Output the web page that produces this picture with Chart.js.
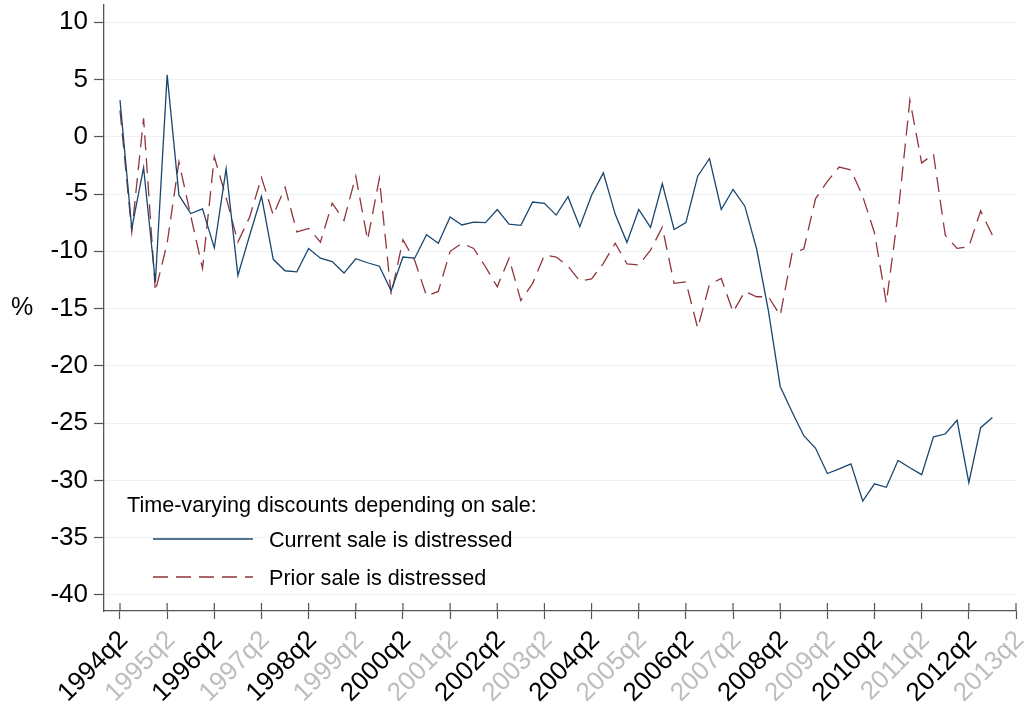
<!DOCTYPE html>
<html>
<head>
<meta charset="utf-8">
<script src="https://cdn.jsdelivr.net/npm/chart.js@4.4.1/dist/chart.umd.min.js"></script>
<style>
  html, body { margin: 0; padding: 0; background: #ffffff; }
  #c { display: block; }
</style>
</head>
<body>
<canvas id="c" width="1026" height="706"></canvas>
<script>
// Quarterly series, first value = 1994q2, one value per quarter
const firstQuarter = "1994q2";
const xTickLabels = ["1994q2","1995q2","1996q2","1997q2","1998q2","1999q2","2000q2","2001q2","2002q2","2003q2",
                     "2004q2","2005q2","2006q2","2007q2","2008q2","2009q2","2010q2","2011q2","2012q2","2013q2"];
const yTickValues = [10, 5, 0, -5, -10, -15, -20, -25, -30, -35, -40];

const currentSale = [
  3.2, -8.0, -2.7, -12.7, 5.4, -5.1, -6.7, -6.3, -9.7, -2.8,
  -12.1, -8.6, -5.2, -10.7, -11.7, -11.8, -9.75, -10.6, -10.9, -11.9,
  -10.65, -11.0, -11.3, -13.45, -10.5, -10.6, -8.55, -9.3, -7.0, -7.7,
  -7.45, -7.5, -6.35, -7.63, -7.74, -5.7, -5.82, -6.84, -5.24, -7.86,
  -5.1, -3.15, -6.75, -9.22, -6.35, -7.92, -4.08, -8.1, -7.5, -3.44,
  -1.9, -6.35, -4.6, -6.06, -9.8, -15.2, -21.8, -24.0, -26.1, -27.2,
  -29.4, -29.0, -28.55, -31.8, -30.3, -30.6, -28.25, -28.9, -29.5, -26.2,
  -25.95, -24.75, -30.2, -25.4, -24.5
];
const priorSale = [
  2.3, -8.3, 1.6, -13.5, -9.3, -2.2, -6.9, -11.5, -1.75, -5.3,
  -9.2, -7.0, -3.55, -6.85, -4.4, -8.3, -8.0, -9.2, -5.8, -7.3,
  -3.44, -9.0, -3.64, -13.8, -9.0, -10.8, -13.9, -13.5, -10.0, -9.3,
  -9.75, -11.35, -13.1, -10.6, -14.3, -12.8, -10.33, -10.5, -11.3, -12.6,
  -12.4, -11.06, -9.3, -11.1, -11.2, -9.9, -7.9, -12.8, -12.66, -16.7,
  -12.9, -12.37, -15.3, -13.5, -13.97, -13.97, -15.6, -10.2, -9.8, -5.4,
  -3.9, -2.65, -2.9, -5.2, -8.4, -14.5, -6.7, 3.2, -2.3, -1.5,
  -8.6, -9.75, -9.6, -6.47, -8.6
];

const legendTitle = "Time-varying discounts depending on sale:";
const seriesNames = ["Current sale is distressed", "Prior sale is distressed"];
const yAxisTitle = "%";

const FONT = "'Liberation Sans', Arial, Helvetica, sans-serif";
const BLUE = "#1a476f";
const RED = "#90353b";
const DASH = [15, 8];

const toPoints = arr => arr.map((v, i) => ({ x: i, y: v }));

const extrasPlugin = {
  id: 'extras',
  afterDraw(chart) {
    const c = chart.ctx;
    const area = chart.chartArea;
    const xs = chart.scales.x;
    // x tick marks extending above axis line
    c.save();
    c.strokeStyle = '#555';
    c.lineWidth = 1.2;
    xs.ticks.forEach(t => {
      const px = xs.getPixelForValue(t.value);
      c.beginPath();
      c.moveTo(px, area.bottom - 8);
      c.lineTo(px, area.bottom);
      c.stroke();
    });
    c.restore();
    // y axis title, horizontal
    c.save();
    c.fillStyle = '#000';
    c.font = "25px " + FONT;
    c.textAlign = 'center';
    c.textBaseline = 'middle';
    c.fillText(yAxisTitle, 22, (area.top + area.bottom) / 2);
    c.restore();
    // legend inside plot region
    c.save();
    const lx = area.left + 23;
    const ty = area.bottom - 99;
    c.font = "21.6px " + FONT;
    c.fillStyle = '#000';
    c.textBaseline = 'alphabetic';
    c.textAlign = 'left';
    c.fillText(legendTitle, lx, ty);
    const ds = chart.data.datasets;
    const rows = [area.bottom - 72, area.bottom - 34];
    ds.forEach((d, k) => {
      const yy = rows[k];
      c.strokeStyle = d.borderColor;
      c.lineWidth = 1.3;
      c.setLineDash(d.borderDash || []);
      c.beginPath();
      c.moveTo(lx + 26, yy);
      c.lineTo(lx + 126, yy);
      c.stroke();
      c.setLineDash([]);
      c.fillText(seriesNames[k], lx + 142, yy + 8);
    });
    c.restore();
  }
};

new Chart(document.getElementById('c'), {
  type: 'line',
  data: {
    datasets: [
      { label: seriesNames[0], data: toPoints(currentSale), borderColor: BLUE, borderWidth: 1.3,
        pointRadius: 0, tension: 0, fill: false },
      { label: seriesNames[1], data: toPoints(priorSale), borderColor: RED, borderWidth: 1.3,
        borderDash: DASH, pointRadius: 0, tension: 0, fill: false }
    ]
  },
  options: {
    responsive: false,
    animation: false,
    devicePixelRatio: 1,
    layout: { padding: { top: 5, right: 10, left: 0, bottom: 0 } },
    plugins: { legend: { display: false }, tooltip: { enabled: false } },
    scales: {
      x: {
        type: 'linear',
        min: -1.357,
        max: (xTickLabels.length - 1) * 4,
        afterBuildTicks: s => { s.ticks = xTickLabels.map((_, k) => ({ value: k * 4 })); },
        afterFit: s => { s.height = 95; s.paddingLeft = 0; s.paddingRight = 0; },
        ticks: {
          autoSkip: false,
          minRotation: 45,
          maxRotation: 45,
          padding: 6,
          labelOffset: 4,
          font: { family: FONT, size: 26 },
          color: ctx => (ctx.index % 2 === 0 ? '#000000' : '#bdbdbd'),
          callback: (v) => xTickLabels[Math.round(v / 4)]
        },
        grid: { drawOnChartArea: false, drawTicks: true, tickLength: 8, tickColor: '#555', tickWidth: 1.2 },
        border: { display: true, color: '#555', width: 1.3 }
      },
      y: {
        min: -41.4,
        max: 11.5,
        afterBuildTicks: s => { s.ticks = yTickValues.map(v => ({ value: v })); },
        afterFit: s => { s.width = 104; s.paddingTop = 0; s.paddingBottom = 0; },
        ticks: {
          font: { family: FONT, size: 26 },
          color: '#000000',
          padding: 6,
          callback: v => String(v)
        },
        grid: { color: '#eaf2f3', lineWidth: 1, tickColor: '#555', tickLength: 10, tickWidth: 1.2 },
        border: { display: true, color: '#555', width: 1.3 }
      }
    }
  },
  plugins: [extrasPlugin]
});
</script>
</body>
</html>
